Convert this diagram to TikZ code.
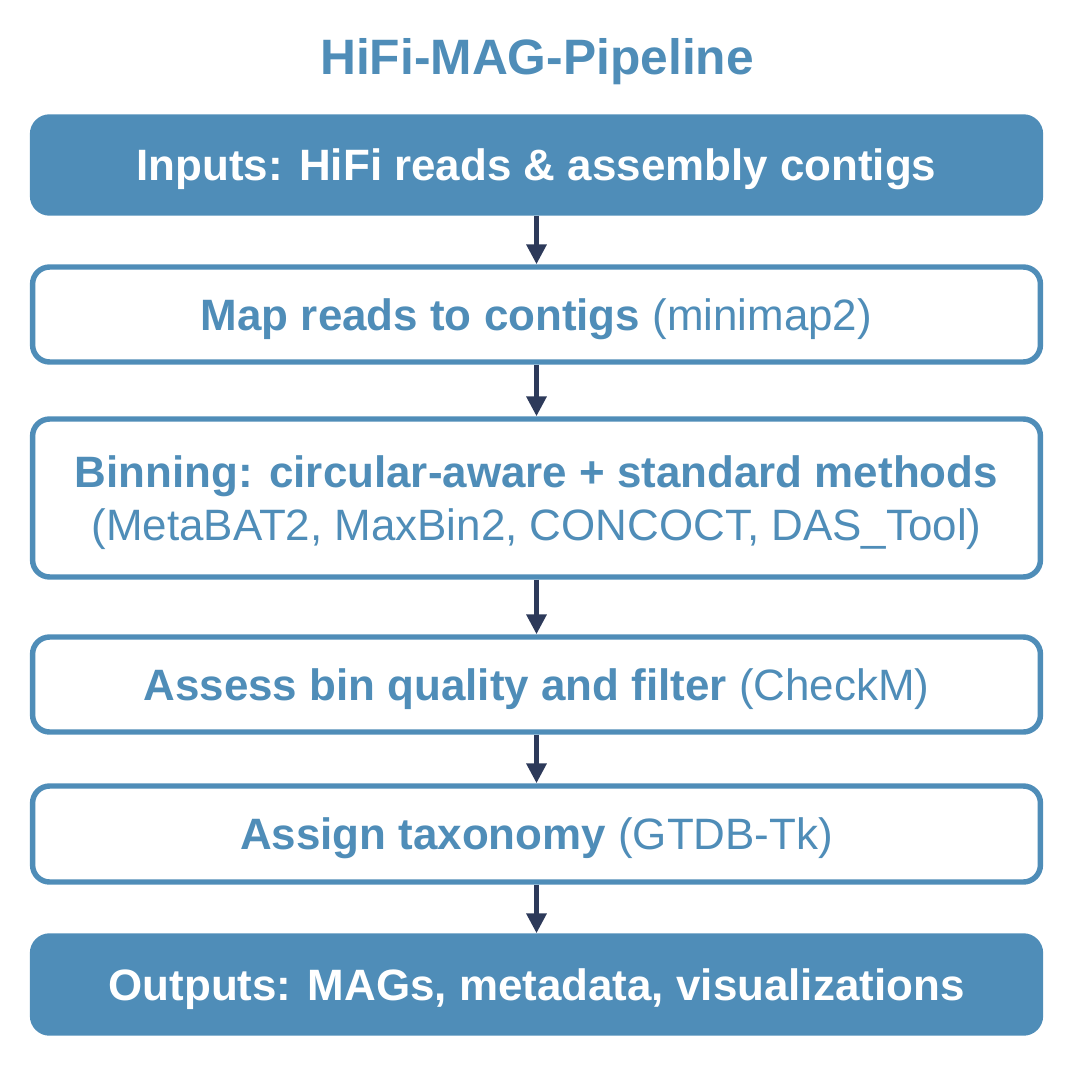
\documentclass[tikz,border=0pt]{standalone}
\usepackage{fontspec}
\setmainfont{Liberation Sans}
\usepackage{xcolor}
\usepackage{tikz}
\usetikzlibrary{arrows.meta}

\definecolor{pipeblue}{HTML}{4F8DB8}
\definecolor{arrownavy}{HTML}{2D3A5A}

\begin{document}
\begin{tikzpicture}[
  x=0.02cm, y=-0.02cm,
  block/.style={rectangle, rounded corners=0.34cm, draw=pipeblue, line width=3.1pt, fill=white,
    minimum width=20.16cm, align=center, text=pipeblue, text depth=0pt, font=\fontsize{25}{30}\selectfont},
  endblock/.style={block, fill=pipeblue, text=white},
  arrow/.style={-{Triangle[width=11pt,length=11.3pt]}, line width=3.4pt, draw=arrownavy}
]
\useasboundingbox (0,0) rectangle (1074,1071);

% Title
\node[text=pipeblue, text depth=0pt, font=\fontsize{28.3}{34}\selectfont\bfseries] (title) at (537,56) {HiFi-MAG-Pipeline};

% Input
\node[endblock, minimum height=1.92cm] (inputs) at (536.5,165) {\textbf{Inputs: HiFi reads \& assembly contigs}};

% Processing steps
\node[block, minimum height=1.9cm] (mapping) at (536.5,314.5) {\textbf{Map reads to contigs} (minimap2)};
\node[block, minimum height=3.16cm] (binning) at (536.5,498) {\textbf{Binning: circular-aware + standard methods}\\(MetaBAT2, MaxBin2, CONCOCT, DAS\_Tool)};
\node[block, minimum height=1.9cm] (quality) at (536.5,684.5) {\textbf{Assess bin quality and filter} (CheckM)};
\node[block, minimum height=1.92cm] (taxonomy) at (536.5,834) {\textbf{Assign taxonomy} (GTDB-Tk)};

% Output
\node[endblock, minimum height=1.94cm] (outputs) at (536.5,984.5) {\textbf{Outputs: MAGs, metadata, visualizations}};

% Arrows
\draw[arrow] (inputs) -- (mapping);
\draw[arrow] (mapping) -- (binning);
\draw[arrow] (binning) -- (quality);
\draw[arrow] (quality) -- (taxonomy);
\draw[arrow] (taxonomy) -- (outputs);

\end{tikzpicture}
\end{document}
